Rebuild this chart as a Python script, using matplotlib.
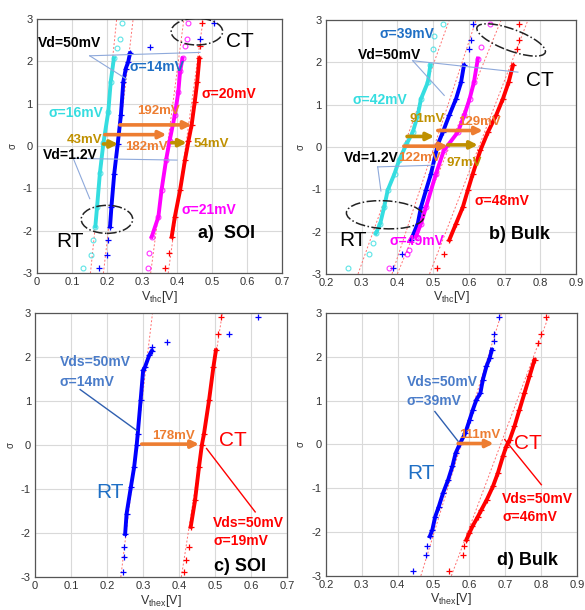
import numpy as np
import matplotlib
matplotlib.use('Agg')
import matplotlib.pyplot as plt
from matplotlib.axes import Axes
from matplotlib.patches import Ellipse

plt.rcParams['font.family'] = ['Liberation Sans', 'DejaVu Sans']
plt.rcParams['axes.unicode_minus'] = False

# ---- a) SOI : sigma / Vthc[V]
a_cyan_s = [-2.88, -2.57, -2.22, -1.9, -1.43, -0.64, 0.07, 0.81, 1.52, 2.07, 2.31, 2.53, 2.9]
a_cyan_v = [0.131, 0.154, 0.161, 0.167, 0.172, 0.180, 0.190, 0.204, 0.211, 0.220, 0.229, 0.237, 0.242]
a_blue_s = [-2.88, -2.57, -2.22, -1.9, -1.43, -0.65, 0.06, 0.73, 1.52, 1.83, 1.99, 2.19, 2.34, 2.53, 2.9]
a_blue_v = [0.178, 0.199, 0.204, 0.209, 0.213, 0.221, 0.231, 0.240, 0.247, 0.254, 0.261, 0.266, 0.323, 0.466, 0.506]
a_mag_s = [-2.87, -2.53, -2.14, -1.67, -1.04, -0.33, 0.12, 0.73, 1.28, 1.76, 2.07, 2.35, 2.53, 2.9]
a_mag_v = [0.318, 0.321, 0.328, 0.347, 0.356, 0.369, 0.379, 0.394, 0.404, 0.409, 0.416, 0.423, 0.428, 0.431]
a_red_s = [-2.87, -2.53, -2.14, -1.67, -1.04, -0.33, 0.12, 0.5, 1.05, 1.52, 2.07, 2.35, 2.9]
a_red_v = [0.366, 0.378, 0.385, 0.394, 0.409, 0.423, 0.433, 0.442, 0.451, 0.458, 0.464, 0.466, 0.471]
# fit lines: V at sigma=-3 and sigma=+3
a_fits = [[0.153, 0.228], [0.19, 0.275], [0.325, 0.42], [0.375, 0.475]]

# ---- b) Bulk
b_cyan_s = [-2.87, -2.52, -2.28, -2.04, -1.81, -1.42, -1.02, -0.63, -0.31, 0.06, 0.35, 0.75, 1.14, 1.53, 1.93, 2.32, 2.63, 2.91]
b_cyan_v = [0.261, 0.321, 0.331, 0.340, 0.352, 0.363, 0.373, 0.392, 0.405, 0.425, 0.443, 0.457, 0.466, 0.485, 0.492, 0.499, 0.503, 0.527]
b_blue_s = [-2.87, -2.52, -2.2, -1.81, -1.42, -1.02, -0.63, 0.06, 0.35, 0.75, 1.14, 1.53, 1.93, 2.32, 2.54, 2.91]
b_blue_v = [0.387, 0.412, 0.438, 0.457, 0.466, 0.480, 0.494, 0.513, 0.527, 0.545, 0.564, 0.578, 0.586, 0.599, 0.606, 0.611]
b_mag_s = [-2.87, -2.52, -2.44, -2.12, -1.81, -1.42, -0.63, -0.08, 0.35, 0.75, 1.14, 1.53, 2.09, 2.36, 2.91]
b_mag_v = [0.377, 0.427, 0.433, 0.452, 0.466, 0.480, 0.508, 0.530, 0.569, 0.587, 0.602, 0.614, 0.625, 0.634, 0.660]
b_red_s = [-2.87, -2.52, -2.2, -1.81, -1.42, -1.02, -0.63, -0.08, 0.35, 0.75, 1.14, 1.53, 1.93, 2.32, 2.54, 2.91]
b_red_v = [0.511, 0.531, 0.545, 0.564, 0.583, 0.597, 0.611, 0.632, 0.653, 0.676, 0.695, 0.711, 0.723, 0.735, 0.739, 0.741]
b_fits = [[0.29, 0.545], [0.385, 0.62], [0.40, 0.69], [0.49, 0.765]]

# ---- c) SOI : sigma / Vthex[V]
c_blue_s = [-2.89, -2.55, -2.32, -2.02, -1.56, -0.95, -0.5, 0, 0.26, 1.02, 1.7, 1.77, 2.04, 2.14, 2.23, 2.34, 2.53, 2.91]
c_blue_v = [0.245, 0.247, 0.247, 0.250, 0.254, 0.266, 0.275, 0.282, 0.285, 0.293, 0.300, 0.305, 0.317, 0.324, 0.324, 0.367, 0.537, 0.620]
c_red_s = [-2.89, -2.62, -2.32, -1.86, -1.26, -0.5, 0, 0.26, 1.02, 1.77, 2.15, 2.53, 2.91]
c_red_v = [0.414, 0.419, 0.426, 0.432, 0.444, 0.455, 0.463, 0.469, 0.483, 0.495, 0.502, 0.509, 0.515]
c_fits = [[0.238, 0.326], [0.406, 0.52]]

# ---- d) Bulk
d_blue_s = [-2.9, -2.52, -2.33, -2.1, -1.95, -1.65, -1.42, -1.11, -0.81, -0.5, -0.2, 0, 0.26, 0.56, 0.79, 1.02, 1.17, 1.48, 1.78, 1.97, 2.16, 2.35, 2.53, 2.91]
d_blue_v = [0.443, 0.480, 0.482, 0.490, 0.497, 0.505, 0.515, 0.527, 0.541, 0.553, 0.562, 0.573, 0.589, 0.601, 0.610, 0.620, 0.631, 0.638, 0.648, 0.657, 0.663, 0.668, 0.668, 0.683]
d_red_s = [-2.9, -2.52, -2.33, -2.18, -2.03, -1.87, -1.65, -1.49, -1.26, -0.96, -0.65, -0.27, -0.05, 0.11, 0.41, 0.79, 1.17, 1.55, 1.93, 2.32, 2.53, 2.91]
d_red_v = [0.543, 0.583, 0.585, 0.592, 0.600, 0.609, 0.624, 0.634, 0.649, 0.666, 0.680, 0.694, 0.703, 0.713, 0.726, 0.740, 0.754, 0.768, 0.782, 0.791, 0.801, 0.815]
d_fits = [[0.465, 0.69], [0.55, 0.825]]

sig_ticks = [-3, -2, -1, 0, 1, 2, 3]
soi_ticks = [0, 0.1, 0.2, 0.3, 0.4, 0.5, 0.6, 0.7]
bulk_ticks = [0.2, 0.3, 0.4, 0.5, 0.6, 0.7, 0.8, 0.9]

CYAN = '#35DDE0'
BLUE = '#0000FF'
MAG = '#FF00FF'
RED = '#FF0000'
TBLUE = '#1F6FC5'
ORANGE = '#ED7D31'
GOLD = '#BF9000'
CALL = '#8EA9DB'


def draw_series(ax: Axes, s: list, v: list, color: str, marker: str):
    s = np.array(s)
    v = np.array(v)
    band = np.abs(s) <= 2.2
    ax.plot(v[band], s[band], color=color, lw=2.8, zorder=3)
    if marker == 'o':
        ax.plot(v, s, 'o', mfc='none', mec=color, ms=3.5, mew=0.8, alpha=0.8, zorder=3)
    else:
        ax.plot(v, s, '+', color=color, ms=4, mew=0.9, zorder=3)


def draw_fits(ax: Axes, fits: list):
    for f in fits:
        ax.plot(f, [-3, 3], ls=(0, (2, 2)), color='#FF7070', lw=0.7, zorder=2)


def setup(ax: Axes, ticks: list, xlabel: str):
    ax.set_xlim(ticks[0], ticks[-1])
    ax.set_ylim(-3, 3)
    ax.set_xticks(ticks)
    ax.set_xticklabels([('%g' % t) for t in ticks])
    ax.set_yticks(sig_ticks)
    ax.tick_params(labelsize=8, length=0, pad=3, colors='#333333')
    ax.grid(True, color='#D9D9D9', lw=0.8)
    ax.set_axisbelow(True)
    for sp in ax.spines.values():
        sp.set_color('#555555')
        sp.set_linewidth(0.9)
    ax.set_xlabel(xlabel, fontsize=9, labelpad=1, color='#333333')
    ax.set_ylabel('σ', fontsize=7, labelpad=4, color='#333333')


def arrow(ax: Axes, x0: float, x1: float, y: float, color: str):
    ax.annotate('', xy=(x1, y), xytext=(x0, y),
                arrowprops=dict(arrowstyle='-|>', color=color, lw=2.6, mutation_scale=11,
                                shrinkA=0, shrinkB=0), zorder=5)


def ellipse(ax: Axes, cx: float, cy: float, w: float, h: float, ang: float = 0):
    ax.add_patch(Ellipse((cx, cy), w, h, angle=ang, transform=ax.transAxes, fill=False,
                         ec='#222222', ls='-.', lw=1.1, zorder=6))


def txt(ax: Axes, x: float, y: float, s: str, color: str, size: float = 10, weight: str = 'bold', ha: str = 'left'):
    ax.text(x, y, s, color=color, fontsize=size, fontweight=weight, ha=ha, va='center', zorder=7)


fig = plt.figure(figsize=(5.85, 6.10), dpi=100)
ax_a = fig.add_axes([0.063, 0.552, 0.419, 0.417])
ax_b = fig.add_axes([0.557, 0.551, 0.428, 0.416])
ax_c = fig.add_axes([0.060, 0.054, 0.431, 0.433])
ax_d = fig.add_axes([0.557, 0.056, 0.429, 0.431])

thc = r'$\mathregular{V_{thc}}$[V]'
thex = r'$\mathregular{V_{thex}}$[V]'

# ---------------- a) SOI
ax = ax_a
setup(ax, soi_ticks, thc)
draw_fits(ax, a_fits)
draw_series(ax, a_cyan_s, a_cyan_v, CYAN, 'o')
draw_series(ax, a_blue_s, a_blue_v, BLUE, '+')
draw_series(ax, a_mag_s, a_mag_v, MAG, 'o')
draw_series(ax, a_red_s, a_red_v, RED, '+')
ellipse(ax, 0.653, 0.95, 0.21, 0.105)
ellipse(ax, 0.286, 0.212, 0.21, 0.11)
ax.plot([0.151, 0.256], [2.13, 1.58], color=CALL, lw=0.8, zorder=4)
ax.plot([0.151, 0.466], [2.13, 2.21], color=CALL, lw=0.8, zorder=4)
ax.plot([0.104, 0.151], [-0.29, -1.24], color=CALL, lw=0.8, zorder=4)
ax.plot([0.104, 0.40], [-0.29, -0.33], color=CALL, lw=0.8, zorder=4)
arrow(ax, 0.237, 0.442, 0.5, ORANGE)
arrow(ax, 0.194, 0.37, 0.27, ORANGE)
arrow(ax, 0.19, 0.232, 0.05, GOLD)
arrow(ax, 0.385, 0.428, 0.08, GOLD)
txt(ax, 0.004, 2.44, 'Vd=50mV', 'black')
txt(ax, 0.266, 1.87, 'σ=14mV', TBLUE)
txt(ax, 0.032, 0.77, 'σ=16mV', CYAN)
txt(ax, 0.47, 1.24, 'σ=20mV', RED)
txt(ax, 0.413, -1.5, 'σ=21mV', MAG)
txt(ax, 0.285, 0.83, '192mV', ORANGE, 9.5)
txt(ax, 0.251, -0.03, '182mV', ORANGE, 9.5)
txt(ax, 0.085, 0.14, '43mV', GOLD, 9.5)
txt(ax, 0.447, 0.06, '54mV', GOLD, 9.5)
txt(ax, 0.018, -0.21, 'Vd=1.2V', 'black')
txt(ax, 0.58, 2.46, 'CT', 'black', 15, 'normal', 'center')
txt(ax, 0.094, -2.26, 'RT', 'black', 15, 'normal', 'center')
txt(ax, 0.542, -2.06, 'a)  SOI', 'black', 13, 'bold', 'center')

# ---------------- b) Bulk
ax = ax_b
setup(ax, bulk_ticks, thc)
draw_fits(ax, b_fits)
draw_series(ax, b_cyan_s, b_cyan_v, CYAN, 'o')
draw_series(ax, b_blue_s, b_blue_v, BLUE, '+')
draw_series(ax, b_mag_s, b_mag_v, MAG, 'o')
draw_series(ax, b_red_s, b_red_v, RED, '+')
ellipse(ax, 0.74, 0.922, 0.29, 0.085, -20)
ellipse(ax, 0.237, 0.233, 0.31, 0.11, -3)
ax.plot([0.443, 0.737], [2.04, 1.77], color=CALL, lw=0.8, zorder=4)
ax.plot([0.443, 0.531], [2.04, 1.22], color=CALL, lw=0.8, zorder=4)
ax.plot([0.345, 0.354], [-0.47, -1.04], color=CALL, lw=0.8, zorder=4)
ax.plot([0.345, 0.503], [-0.47, -0.43], color=CALL, lw=0.8, zorder=4)
arrow(ax, 0.427, 0.503, 0.25, GOLD)
arrow(ax, 0.513, 0.639, 0.39, ORANGE)
arrow(ax, 0.418, 0.541, 0.02, ORANGE)
arrow(ax, 0.541, 0.625, 0.05, GOLD)
txt(ax, 0.35, 2.67, 'σ=39mV', TBLUE)
txt(ax, 0.289, 2.18, 'Vd=50mV', 'black')
txt(ax, 0.275, 1.1, 'σ=42mV', CYAN)
txt(ax, 0.433, 0.67, '91mV', GOLD, 9.5)
txt(ax, 0.569, 0.59, '129mV', ORANGE, 9.5)
txt(ax, 0.251, -0.25, 'Vd=1.2V', 'black')
txt(ax, 0.401, -0.25, '122mV', ORANGE, 9.5)
txt(ax, 0.536, -0.38, '97mV', GOLD, 9.5)
txt(ax, 0.616, -1.27, 'σ=48mV', RED)
txt(ax, 0.377, -2.22, 'σ=49mV', MAG)
txt(ax, 0.798, 1.57, 'CT', 'black', 15, 'normal', 'center')
txt(ax, 0.275, -2.2, 'RT', 'black', 15, 'normal', 'center')
txt(ax, 0.742, -2.08, 'b) Bulk', 'black', 13, 'bold', 'center')

# ---------------- c) SOI
ax = ax_c
setup(ax, soi_ticks, thex)
draw_fits(ax, c_fits)
draw_series(ax, c_blue_s, c_blue_v, BLUE, '+')
draw_series(ax, c_red_s, c_red_v, RED, '+')
ax.plot([0.125, 0.282], [1.26, 0.33], color='#2F5FB0', lw=1.0, zorder=4)
ax.plot([0.476, 0.611], [-0.08, -1.52], color=RED, lw=1.0, zorder=4)
arrow(ax, 0.296, 0.455, 0.02, ORANGE)
txt(ax, 0.069, 1.89, 'Vds=50mV', '#4A7CC9')
txt(ax, 0.069, 1.43, 'σ=14mV', '#4A7CC9')
txt(ax, 0.324, 0.2, '178mV', ORANGE, 9.5)
txt(ax, 0.55, 0.11, 'CT', RED, 15, 'normal', 'center')
txt(ax, 0.208, -1.09, 'RT', TBLUE, 15, 'normal', 'center')
txt(ax, 0.495, -1.77, 'Vds=50mV', RED)
txt(ax, 0.495, -2.17, 'σ=19mV', RED)
txt(ax, 0.569, -2.77, 'c) SOI', 'black', 13, 'bold', 'center')

# ---------------- d) Bulk
ax = ax_d
setup(ax, bulk_ticks, thex)
draw_fits(ax, d_fits)
draw_series(ax, d_blue_s, d_blue_v, BLUE, '+')
draw_series(ax, d_red_s, d_red_v, RED, '+')
ax.plot([0.504, 0.569], [0.75, 0.07], color='#2F5FB0', lw=1.0, zorder=4)
ax.plot([0.699, 0.801], [0.11, -0.92], color=RED, lw=1.0, zorder=4)
arrow(ax, 0.569, 0.668, 0.02, ORANGE)
txt(ax, 0.425, 1.42, 'Vds=50mV', '#4A7CC9')
txt(ax, 0.425, 1.0, 'σ=39mV', '#4A7CC9')
txt(ax, 0.573, 0.22, '111mV', ORANGE, 9.5)
txt(ax, 0.764, 0.03, 'CT', RED, 15, 'normal', 'center')
txt(ax, 0.466, -0.67, 'RT', TBLUE, 15, 'normal', 'center')
txt(ax, 0.692, -1.25, 'Vds=50mV', RED)
txt(ax, 0.692, -1.66, 'σ=46mV', RED)
txt(ax, 0.761, -2.64, 'd) Bulk', 'black', 13, 'bold', 'center')

fig.savefig('out.png', dpi=100)
